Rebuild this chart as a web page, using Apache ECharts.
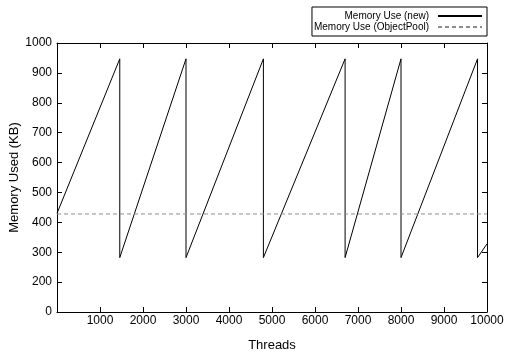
<!DOCTYPE html>
<html>
<head>
<meta charset="utf-8">
<script src="https://cdn.jsdelivr.net/npm/echarts@6/dist/echarts.min.js"></script>
<style>
html,body{margin:0;padding:0;background:#fff;}
#chart{width:510px;height:360px;}
</style>
</head>
<body>
<div id="chart"></div>
<script>
// Memory Use (new): sawtooth [threads, KB]
var newThreads = [0, 1460, 1460, 3000, 3000, 4800, 4800, 6700, 6700, 8000, 8000, 9780, 9780, 10000];
var newMemory  = [430, 947, 282, 947, 282, 947, 282, 947, 282, 947, 282, 947, 282, 328];
// Memory Use (ObjectPool): constant
var poolThreads = [0, 10000];
var poolMemory  = [428, 428];
// tick labels
var xTickValues = [0, 1000, 2000, 3000, 4000, 5000, 6000, 7000, 8000, 9000, 10000];
var xTickLabels = ['', '1000', '2000', '3000', '4000', '5000', '6000', '7000', '8000', '9000', '10000'];
var yTickValues = [100, 200, 300, 400, 500, 600, 700, 800, 900, 1000];
var yTickLabels = ['0', '200', '300', '400', '500', '600', '700', '800', '900', '1000'];
var seriesNames = ['Memory Use (new)', 'Memory Use (ObjectPool)'];

function zip(a, b) { return a.map(function (v, i) { return [v, b[i]]; }); }
function lookup(vals, labels) {
  return function (v) { var i = vals.indexOf(v); return i < 0 ? '' : labels[i]; };
}

var font = 'Liberation Sans, Arial, sans-serif';
var chart = echarts.init(document.getElementById('chart'), null, {renderer: 'canvas'});
function axisLine() { return {show: true, onZero: false, lineStyle: {color: '#000', width: 1}}; }
function tick() { return {show: true, inside: true, length: 5, lineStyle: {color: '#000', width: 1}}; }

chart.setOption({
  animation: false,
  backgroundColor: '#fff',
  grid: {left: 57, right: 23, top: 43, bottom: 48, containLabel: false, outerBoundsMode: 'none'},
  legend: {
    data: seriesNames,
    orient: 'vertical',
    align: 'right',
    right: 23,
    top: 7,
    itemWidth: 44,
    itemHeight: 10,
    itemGap: 1,
    padding: [4, 4, 4, 2],
    borderColor: '#000',
    borderWidth: 1,
    borderRadius: 0,
    itemStyle: {opacity: 0},
    textStyle: {fontFamily: font, fontSize: 10, color: '#000', padding: [0, 4, 0, 0]}
  },
  xAxis: [{
    type: 'value', min: 0, max: 10000, interval: 1000, position: 'bottom',
    name: 'Threads', nameLocation: 'middle', nameGap: 27, nameMoveOverlap: false,
    nameTextStyle: {fontFamily: font, fontSize: 13, color: '#000'},
    axisLine: axisLine(), axisTick: tick(), splitLine: {show: false},
    axisLabel: {fontFamily: font, fontSize: 12, color: '#000', margin: 3,
      formatter: lookup(xTickValues, xTickLabels)}
  }, {
    type: 'value', min: 0, max: 10000, interval: 1000, position: 'top',
    axisLine: axisLine(), axisTick: tick(), splitLine: {show: false},
    axisLabel: {show: false}
  }],
  yAxis: [{
    type: 'value', min: 100, max: 1000, interval: 100, position: 'left',
    name: 'Memory Used (KB)', nameLocation: 'middle', nameGap: 36, nameMoveOverlap: false,
    nameTextStyle: {fontFamily: font, fontSize: 13, color: '#000'},
    axisLine: axisLine(), axisTick: tick(), splitLine: {show: false},
    axisLabel: {fontFamily: font, fontSize: 12, color: '#000', margin: 5,
      formatter: lookup(yTickValues, yTickLabels)}
  }, {
    type: 'value', min: 100, max: 1000, interval: 100, position: 'right',
    axisLine: axisLine(), axisTick: tick(), splitLine: {show: false},
    axisLabel: {show: false}
  }],
  series: [{
    name: seriesNames[0], type: 'line', data: zip(newThreads, newMemory),
    symbol: 'none', showSymbol: false,
    lineStyle: {color: '#000', width: 1}, itemStyle: {color: '#000'}
  }, {
    name: seriesNames[1], type: 'line', data: zip(poolThreads, poolMemory),
    symbol: 'none', showSymbol: false,
    lineStyle: {color: '#8c8c8c', width: 1, type: [4, 3]}, itemStyle: {color: '#8c8c8c'}
  }]
});
</script>
</body>
</html>
